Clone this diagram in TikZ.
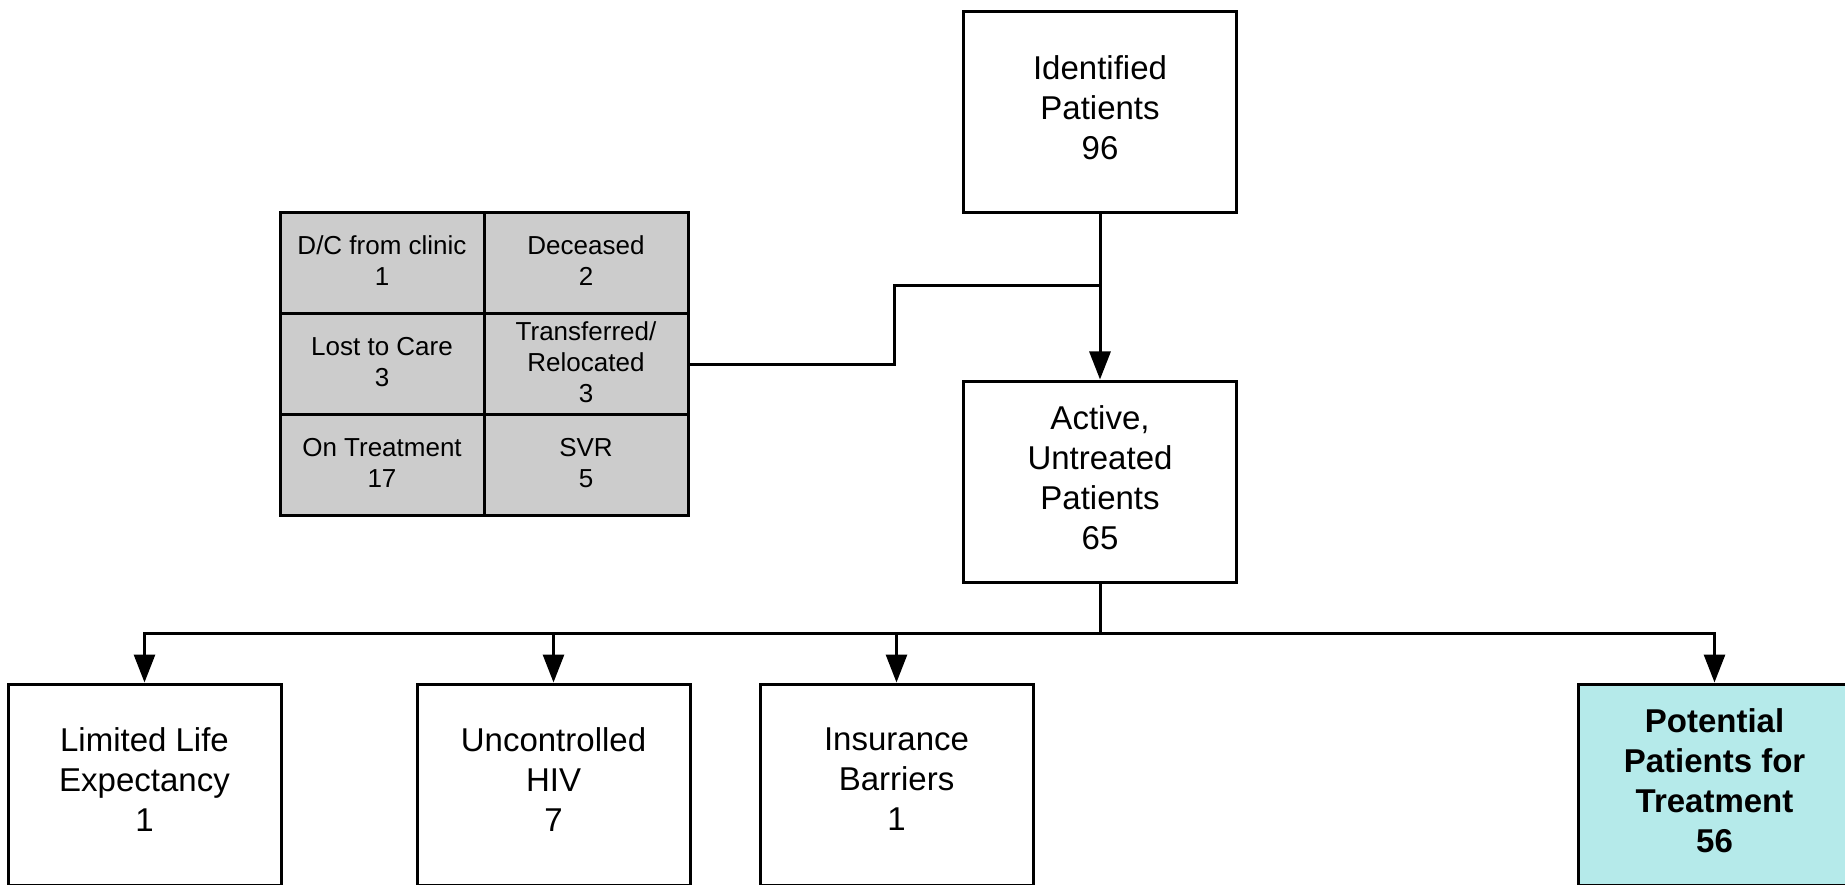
\documentclass[tikz,border=0pt]{standalone}
\usepackage{fontspec}
\setmainfont{Liberation Sans}
\usetikzlibrary{arrows.meta}
\definecolor{cellgray}{RGB}{204,204,204}
\definecolor{teal}{RGB}{181,234,234}
\begin{document}
\begin{tikzpicture}[x=1pt,y=-1pt,
  box/.style={draw=black,line width=3pt,minimum width=273pt,minimum height=201pt,inner sep=0pt},
  boxtext/.style={align=center,inner sep=0pt,font=\fontsize{33}{40}\selectfont},
  cell/.style={draw=black,line width=3pt,fill=cellgray,minimum width=204pt,minimum height=101pt,inner sep=0pt},
  celltext/.style={align=center,inner sep=0pt,font=\fontsize{26}{31}\selectfont},
  conn/.style={line width=3pt,draw=black},
  arr/.style={conn,-{Triangle[width=21pt,length=28pt]}}]
\useasboundingbox (0,0) rectangle (1845,885);
\clip (0,0) rectangle (1845,885);
\fill[white] (0,0) rectangle (1845,885);
% main boxes
\node[box] (ident) at (1100,112.5) {};
\node[boxtext] (identt) at ([yshift=5pt]ident.center) {Identified\\Patients\\96};
\node[box] (active) at (1100,481.5) {};
\node[boxtext] (activet) at ([yshift=4pt]active.center) {Active,\\Untreated\\Patients\\65};
\node[box] (limited) at (144.5,784.5) {};
\node[boxtext] (limitedt) at ([yshift=5pt]limited.center) {Limited Life\\Expectancy\\1};
\node[box] (hiv) at (553.5,784.5) {};
\node[boxtext] (hivt) at ([yshift=5pt]hiv.center) {Uncontrolled\\HIV\\7};
\node[box] (ins) at (896.5,784.5) {};
\node[boxtext] (inst) at ([yshift=5pt]ins.center) {Insurance\\Barriers\\1};
\node[box,fill=teal] (pot) at (1714.5,784.5) {};
\node[boxtext,font=\fontsize{33}{40}\selectfont\bfseries] (pott) at ([yshift=4pt]pot.center) {Potential\\Patients for\\Treatment\\56};
% table cells
\node[cell] (dc) at (382,263) {};
\node[celltext] at ([yshift=2pt]dc.center) {D/C from clinic\\1};
\node[cell] (dec) at (586,263) {};
\node[celltext] at ([yshift=2pt]dec.center) {Deceased\\2};
\node[cell] (lost) at (382,364) {};
\node[celltext] at ([yshift=2pt]lost.center) {Lost to Care\\3};
\node[cell] (trans) at (586,364) {};
\node[celltext] at ([yshift=2pt]trans.center) {Transferred/\\Relocated\\3};
\node[cell] (ontr) at (382,465) {};
\node[celltext] at ([yshift=2pt]ontr.center) {On Treatment\\17};
\node[cell] (svr) at (586,465) {};
\node[celltext] at ([yshift=2pt]svr.center) {SVR\\5};
% connectors
\coordinate (j1) at (1100,286);
\coordinate (b1) at (1100,633);
\draw[arr] (ident.south) -- (active.north);
\draw[conn] (trans.east) -- (894,364) -- (894,286) -- (j1);
\draw[conn] (active.south) -- (b1);
\draw[arr] (b1) -| (limited.north);
\draw[arr] (b1) -| (hiv.north);
\draw[arr] (b1) -| (ins.north);
\draw[arr] (b1) -| (pot.north);
\end{tikzpicture}
\end{document}
